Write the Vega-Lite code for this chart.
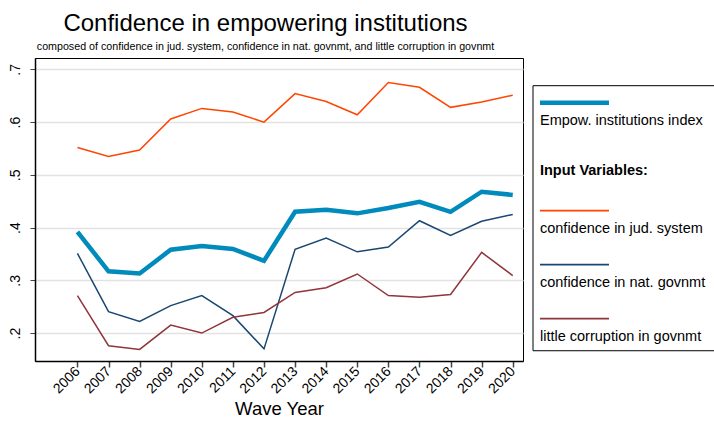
{
  "$schema": "https://vega.github.io/schema/vega-lite/v6.json",
  "padding": {"left": 7, "top": 11, "right": 1, "bottom": 0},
  "background": "white",
  "config": {
    "font": "Liberation Sans",
    "view": {"stroke": "black", "strokeWidth": 1},
    "concat": {"spacing": 8}
  },
  "datasets": {
    "series": [
      {"year": 2006, "series": "Empow. institutions index", "value": 0.392},
      {"year": 2007, "series": "Empow. institutions index", "value": 0.317},
      {"year": 2008, "series": "Empow. institutions index", "value": 0.313},
      {"year": 2009, "series": "Empow. institutions index", "value": 0.358},
      {"year": 2010, "series": "Empow. institutions index", "value": 0.365},
      {"year": 2011, "series": "Empow. institutions index", "value": 0.3595},
      {"year": 2012, "series": "Empow. institutions index", "value": 0.337},
      {"year": 2013, "series": "Empow. institutions index", "value": 0.430},
      {"year": 2014, "series": "Empow. institutions index", "value": 0.434},
      {"year": 2015, "series": "Empow. institutions index", "value": 0.427},
      {"year": 2016, "series": "Empow. institutions index", "value": 0.437},
      {"year": 2017, "series": "Empow. institutions index", "value": 0.449},
      {"year": 2018, "series": "Empow. institutions index", "value": 0.430},
      {"year": 2019, "series": "Empow. institutions index", "value": 0.468},
      {"year": 2020, "series": "Empow. institutions index", "value": 0.462},
      {"year": 2006, "series": "confidence in jud. system", "value": 0.552},
      {"year": 2007, "series": "confidence in jud. system", "value": 0.535},
      {"year": 2008, "series": "confidence in jud. system", "value": 0.547},
      {"year": 2009, "series": "confidence in jud. system", "value": 0.606},
      {"year": 2010, "series": "confidence in jud. system", "value": 0.626},
      {"year": 2011, "series": "confidence in jud. system", "value": 0.619},
      {"year": 2012, "series": "confidence in jud. system", "value": 0.600},
      {"year": 2013, "series": "confidence in jud. system", "value": 0.654},
      {"year": 2014, "series": "confidence in jud. system", "value": 0.639},
      {"year": 2015, "series": "confidence in jud. system", "value": 0.614},
      {"year": 2016, "series": "confidence in jud. system", "value": 0.675},
      {"year": 2017, "series": "confidence in jud. system", "value": 0.666},
      {"year": 2018, "series": "confidence in jud. system", "value": 0.628},
      {"year": 2019, "series": "confidence in jud. system", "value": 0.638},
      {"year": 2020, "series": "confidence in jud. system", "value": 0.651},
      {"year": 2006, "series": "confidence in nat. govnmt", "value": 0.351},
      {"year": 2007, "series": "confidence in nat. govnmt", "value": 0.2405},
      {"year": 2008, "series": "confidence in nat. govnmt", "value": 0.222},
      {"year": 2009, "series": "confidence in nat. govnmt", "value": 0.252},
      {"year": 2010, "series": "confidence in nat. govnmt", "value": 0.271},
      {"year": 2011, "series": "confidence in nat. govnmt", "value": 0.233},
      {"year": 2012, "series": "confidence in nat. govnmt", "value": 0.170},
      {"year": 2013, "series": "confidence in nat. govnmt", "value": 0.359},
      {"year": 2014, "series": "confidence in nat. govnmt", "value": 0.380},
      {"year": 2015, "series": "confidence in nat. govnmt", "value": 0.354},
      {"year": 2016, "series": "confidence in nat. govnmt", "value": 0.363},
      {"year": 2017, "series": "confidence in nat. govnmt", "value": 0.413},
      {"year": 2018, "series": "confidence in nat. govnmt", "value": 0.385},
      {"year": 2019, "series": "confidence in nat. govnmt", "value": 0.412},
      {"year": 2020, "series": "confidence in nat. govnmt", "value": 0.425},
      {"year": 2006, "series": "little corruption in govnmt", "value": 0.271},
      {"year": 2007, "series": "little corruption in govnmt", "value": 0.176},
      {"year": 2008, "series": "little corruption in govnmt", "value": 0.169},
      {"year": 2009, "series": "little corruption in govnmt", "value": 0.215},
      {"year": 2010, "series": "little corruption in govnmt", "value": 0.200},
      {"year": 2011, "series": "little corruption in govnmt", "value": 0.230},
      {"year": 2012, "series": "little corruption in govnmt", "value": 0.239},
      {"year": 2013, "series": "little corruption in govnmt", "value": 0.277},
      {"year": 2014, "series": "little corruption in govnmt", "value": 0.286},
      {"year": 2015, "series": "little corruption in govnmt", "value": 0.312},
      {"year": 2016, "series": "little corruption in govnmt", "value": 0.271},
      {"year": 2017, "series": "little corruption in govnmt", "value": 0.268},
      {"year": 2018, "series": "little corruption in govnmt", "value": 0.273},
      {"year": 2019, "series": "little corruption in govnmt", "value": 0.353},
      {"year": 2020, "series": "little corruption in govnmt", "value": 0.309}
    ],
    "legendItems": [
      {"slot": 0, "label": "Empow. institutions index", "series": "Empow. institutions index", "kind": "item"},
      {"slot": 1, "label": "Input Variables:", "series": null, "kind": "header"},
      {"slot": 2, "label": "confidence in jud. system", "series": "confidence in jud. system", "kind": "item"},
      {"slot": 3, "label": "confidence in nat. govnmt", "series": "confidence in nat. govnmt", "kind": "item"},
      {"slot": 4, "label": "little corruption in govnmt", "series": "little corruption in govnmt", "kind": "item"}
    ]
  },
  "resolve": {"scale": {"color": "independent", "x": "independent", "y": "independent"}},
  "hconcat": [
    {
      "width": 488,
      "height": 303,
      "title": {
        "text": "Confidence in empowering institutions",
        "subtitle": "composed of confidence in jud. system, confidence in nat. govnmt, and little corruption in govnmt",
        "fontSize": 24,
        "fontWeight": "normal",
        "color": "black",
        "subtitleFontSize": 10.7,
        "subtitleColor": "black",
        "subtitlePadding": 6,
        "offset": 6,
        "anchor": "middle",
        "frame": "bounds",
        "font": "Liberation Sans",
        "subtitleFont": "Liberation Sans"
      },
      "data": {"name": "series"},
      "mark": {"type": "line", "strokeJoin": "miter"},
      "encoding": {
        "x": {
          "field": "year",
          "type": "quantitative",
          "scale": {"domain": [2004.635, 2020.33], "nice": false, "zero": false},
          "axis": {
            "values": [2006, 2007, 2008, 2009, 2010, 2011, 2012, 2013, 2014, 2015, 2016, 2017, 2018, 2019, 2020],
            "format": "d",
            "title": "Wave Year",
            "titleFontSize": 18.5,
            "titleFontWeight": "normal",
            "titleColor": "black",
            "titlePadding": 4,
            "labelAngle": -45,
            "labelAlign": "right",
            "labelBaseline": "middle",
            "labelFontSize": 14,
            "labelColor": "black",
            "labelPadding": 2,
            "labelFlush": false,
            "labelOverlap": false,
            "tickSize": 6,
            "tickColor": "#444",
            "tickWidth": 1.5,
            "domainColor": "black",
            "domainWidth": 1.5,
            "grid": false
          }
        },
        "y": {
          "field": "value",
          "type": "quantitative",
          "scale": {"domain": [0.147, 0.7216], "nice": false, "zero": false},
          "axis": {
            "values": [0.2, 0.3, 0.4, 0.5, 0.6, 0.7],
            "labelExpr": "replace(format(datum.value, '.1f'), '0.', '.')",
            "title": null,
            "labelAngle": -90,
            "labelAlign": "center",
            "labelBaseline": "bottom",
            "labelFontSize": 14,
            "labelColor": "black",
            "labelPadding": 8,
            "tickSize": 5,
            "tickColor": "#444",
            "domainColor": "black",
            "domainWidth": 1.5,
            "grid": true,
            "gridColor": "#e2e2e2",
            "gridWidth": 1.5
          }
        },
        "color": {
          "field": "series",
          "type": "nominal",
          "scale": {
            "domain": ["Empow. institutions index", "confidence in jud. system", "confidence in nat. govnmt", "little corruption in govnmt"],
            "range": ["#008bbc", "#ff4500", "#1a476f", "#90353b"]
          },
          "legend": null
        },
        "strokeWidth": {
          "condition": {"test": "datum.series === 'Empow. institutions index'", "value": 4.5},
          "value": 1.5
        }
      }
    },
    {
      "width": 182,
      "height": 303,
      "view": {"stroke": null},
      "data": {"name": "legendItems"},
      "layer": [
        {
          "transform": [{"filter": "datum.slot === 0"}],
          "mark": {"type": "rect", "fill": null, "stroke": "black", "strokeWidth": 1},
          "encoding": {
            "x": {"datum": -0.101, "type": "quantitative", "scale": {"domain": [-0.101, 2.536], "nice": false, "zero": false}, "axis": null},
            "x2": {"datum": 2.536},
            "y": {"datum": -0.315, "type": "quantitative", "scale": {"domain": [-0.828, 4.783], "reverse": true, "nice": false, "zero": false}, "axis": null},
            "y2": {"datum": 4.593}
          }
        },
        {
          "transform": [{"filter": "datum.kind === 'item'"}],
          "mark": {"type": "rule"},
          "encoding": {
            "x": {"datum": 0, "type": "quantitative"},
            "x2": {"datum": 1},
            "y": {"field": "slot", "type": "quantitative"},
            "color": {
              "field": "series",
              "type": "nominal",
              "scale": {
                "domain": ["Empow. institutions index", "confidence in jud. system", "confidence in nat. govnmt", "little corruption in govnmt"],
                "range": ["#008bbc", "#ff4500", "#1a476f", "#90353b"]
              },
              "legend": null
            },
            "strokeWidth": {
              "condition": {"test": "datum.series === 'Empow. institutions index'", "value": 4.5},
              "value": 1.8
            }
          }
        },
        {
          "transform": [{"filter": "datum.kind === 'item'"}],
          "mark": {"type": "text", "align": "left", "baseline": "middle", "dy": 18, "fontSize": 14.5, "color": "black"},
          "encoding": {
            "x": {"datum": 0, "type": "quantitative"},
            "y": {"field": "slot", "type": "quantitative"},
            "text": {"field": "label"}
          }
        },
        {
          "transform": [{"filter": "datum.kind === 'header'"}],
          "mark": {"type": "text", "align": "left", "baseline": "middle", "dy": 14, "fontSize": 14.5, "fontWeight": "bold", "color": "black"},
          "encoding": {
            "x": {"datum": 0, "type": "quantitative"},
            "y": {"field": "slot", "type": "quantitative"},
            "text": {"field": "label"}
          }
        }
      ]
    }
  ]
}
